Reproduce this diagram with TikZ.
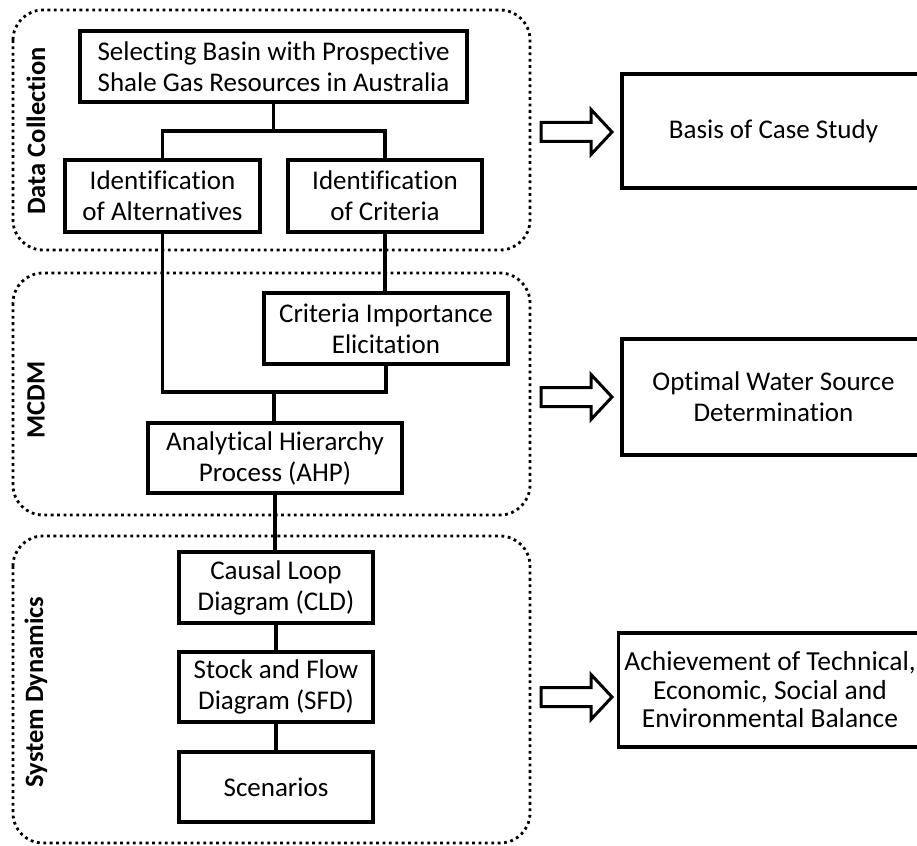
\documentclass[tikz,border=0pt]{standalone}
\usepackage{fontspec}
\setmainfont{Carlito}[Ligatures={NoCommon}]
\begin{document}
\begin{tikzpicture}[x=1pt,y=-1pt,
  box/.style={draw, line width=3.5pt, align=center, inner sep=0pt,
    font=\fontsize{27}{31}\selectfont},
  group/.style={draw, line width=2.8pt, dash pattern=on 2.8pt off 3.6pt, rounded corners=30pt},
  glabel/.style={rotate=90, font=\fontsize{26.5}{30}\selectfont\bfseries},
  conn/.style={line width=3.5pt},
  barrow/.style={draw, line width=3pt, fill=white, line join=miter}]
\useasboundingbox (0,0) rectangle (917,845);

% groups
\draw[group] (13,10) rectangle (530,250);
\draw[group] (13,273) rectangle (530,515);
\draw[group] (13,536) rectangle (530,843);
\node[glabel] (lab1) at (36,131) {Data Collection};
\node[glabel] (lab2) at (36,400) {MCDM};
\node[glabel] (lab3) at (36,692) {System Dynamics};

% nodes
\node[box, minimum width=387pt, minimum height=71pt] (sel) at (273.5,66.5) {Selecting Basin with Prospective\\Shale Gas Resources in Australia};
\node[box, minimum width=195pt, minimum height=72pt] (alt) at (162.5,196) {Identification\\of Alternatives};
\node[box, minimum width=194pt, minimum height=72pt] (crit) at (385,196) {Identification\\of Criteria};
\node[box, minimum width=244pt, minimum height=71pt] (cie) at (386,328.5) {Criteria Importance\\Elicitation};
\node[box, minimum width=254pt, minimum height=70pt] (ahp) at (275,458) {Analytical Hierarchy\\Process (AHP)};
\node[box, minimum width=194pt, minimum height=71pt] (cld) at (276,587.5) {Causal Loop\\Diagram (CLD)};
\node[box, minimum width=194pt, minimum height=70pt] (sfd) at (276,687) {Stock and Flow\\Diagram (SFD)};
\node[box, minimum width=194pt, minimum height=70pt] (scen) at (276,787) {Scenarios};

\node[box, minimum width=303pt, minimum height=114pt] (basis) at (773.5,131) {Basis of Case Study};
\node[box, minimum width=303pt, minimum height=116pt] (opt) at (773.5,397) {Optimal Water Source\\Determination};
\node[box, minimum width=303pt, minimum height=114pt, font=\fontsize{27.5}{28.5}\selectfont] (ach) at (770,690) {Achievement of Technical,\\Economic, Social and\\Environmental Balance};

% connectors
\coordinate (j1) at (273.5,131);
\coordinate (j2) at (274,392);
\draw[conn] (sel.south) -- (j1);
\draw[conn] (alt.north) -- (alt.north |- j1) -- (crit.north |- j1) -- (crit.north);
\draw[conn] (crit.south) -- (crit.south |- cie.north);
\draw[conn] (alt.south) -- (alt.south |- j2) -- (cie.south |- j2) -- (cie.south);
\draw[conn] (j2) -- (j2 |- ahp.north);
\draw[conn] (ahp.south) -- (ahp.south |- cld.north);
\draw[conn] (cld.south) -- (sfd.north);
\draw[conn] (sfd.south) -- (scen.north);

% block arrows
\foreach \yy/\nm in {132/a1, 397/a2, 697/a3} {
  \coordinate (\nm) at (541,\yy);
  \draw[barrow] (\nm) ++(0,-9.5) -- ++(50,0) -- ++(0,-13) -- ++(21,22.5) -- ++(-21,22.5) -- ++(0,-13) -- ++(-50,0) -- cycle;
}
\end{tikzpicture}
\end{document}
